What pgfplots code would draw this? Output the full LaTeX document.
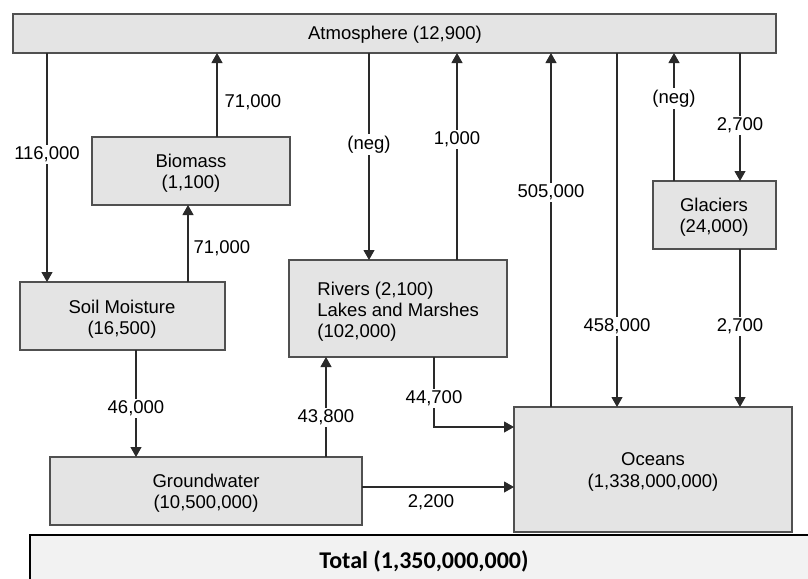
\documentclass[border=0pt]{standalone}
\usepackage{pgfplots}
\pgfplotsset{compat=1.18}
\usepackage{fontspec}
\setmainfont{Liberation Sans}
\newfontfamily\calibri{Carlito}
\usetikzlibrary{arrows.meta}
\definecolor{boxfill}{HTML}{E4E4E4}
\definecolor{boxline}{HTML}{505050}
\definecolor{totfill}{HTML}{F2F2F2}
\definecolor{arrcol}{HTML}{2A2A2A}
\begin{document}
\begin{tikzpicture}[
 lbl/.style={font=\fontsize{9.25}{10.5}\selectfont, fill=white, inner sep=1pt},
 txt/.style={font=\fontsize{9.25}{10.6}\selectfont, align=center, inner sep=0pt},
]
\begin{axis}[scale only axis, width=404pt, height=289pt,
 xmin=0, xmax=808, ymin=0, ymax=578, y dir=reverse, hide axis,
 box/.style={draw=boxline, fill=boxfill, line width=0.6pt, mark=none},
 arr/.style={draw=arrcol, line width=0.55pt, mark=none, -{Triangle[width=5.5pt,length=5pt]}},
]
% total box
\addplot[draw=black, fill=totfill, line width=1pt, mark=none] coordinates {(30,535) (815,535) (815,585) (30,585)} -- cycle;
% boxes
\addplot[box] coordinates {(13,14) (776,14) (776,53) (13,53)} -- cycle;        % Atmosphere
\addplot[box] coordinates {(92,137) (290,137) (290,205) (92,205)} -- cycle;    % Biomass
\addplot[box] coordinates {(20,282) (225,282) (225,350) (20,350)} -- cycle;    % Soil moisture
\addplot[box] coordinates {(289,260) (507,260) (507,357) (289,357)} -- cycle;  % Rivers
\addplot[box] coordinates {(653,181) (776,181) (776,249) (653,249)} -- cycle;  % Glaciers
\addplot[box] coordinates {(50,457) (362,457) (362,525) (50,525)} -- cycle;    % Groundwater
\addplot[box] coordinates {(514,407) (792,407) (792,532) (514,532)} -- cycle;  % Oceans
% arrows
\addplot[arr] coordinates {(47,53) (47,282)};      % 116,000
\addplot[arr] coordinates {(217,137) (217,53)};    % 71,000 biomass -> atm
\addplot[arr] coordinates {(188,282) (188,205)};   % 71,000 soil -> biomass
\addplot[arr] coordinates {(369,53) (369,260)};    % neg atm -> rivers
\addplot[arr] coordinates {(457,260) (457,53)};    % 1,000 rivers -> atm
\addplot[arr] coordinates {(551,407) (551,53)};    % 505,000 oceans -> atm
\addplot[arr] coordinates {(617,53) (617,407)};    % 458,000 atm -> oceans
\addplot[arr] coordinates {(674,181) (674,53)};    % neg glaciers -> atm
\addplot[arr] coordinates {(740,53) (740,181)};    % 2,700 atm -> glaciers
\addplot[arr] coordinates {(740,249) (740,407)};   % 2,700 glaciers -> oceans
\addplot[arr] coordinates {(136,350) (136,457)};   % 46,000
\addplot[arr] coordinates {(326,457) (326,357)};   % 43,800
\addplot[arr] coordinates {(434,357) (434,427) (514,427)}; % 44,700
\addplot[arr] coordinates {(362,487) (514,487)};   % 2,200
% box texts
\node[txt] at (axis cs:395,35) {Atmosphere (12,900)};
\node[txt] at (axis cs:191,173.5) {Biomass\\(1,100)};
\node[txt] at (axis cs:122,319) {Soil Moisture\\(16,500)};
\node[txt, align=left, anchor=west] at (axis cs:317,311.5) {Rivers (2,100)\\Lakes and Marshes\\(102,000)};
\node[txt] at (axis cs:714,217) {Glaciers\\(24,000)};
\node[txt] at (axis cs:206,493) {Groundwater\\(10,500,000)};
\node[txt] at (axis cs:653,472) {Oceans\\(1,338,000,000)};
\node[font=\calibri\bfseries\fontsize{12}{14}\selectfont, inner sep=0pt] at (axis cs:424,561) {Total (1,350,000,000)};
% flow labels
\node[lbl] at (axis cs:47,154.5) {116,000};
\node[lbl] at (axis cs:253,102.5) {71,000};
\node[lbl] at (axis cs:222,248.5) {71,000};
\node[lbl] at (axis cs:369,144.5) {(neg)};
\node[lbl] at (axis cs:457,139.5) {1,000};
\node[lbl] at (axis cs:551,192.5) {505,000};
\node[lbl] at (axis cs:617,326.5) {458,000};
\node[lbl] at (axis cs:674,98.5) {(neg)};
\node[lbl] at (axis cs:740,125.5) {2,700};
\node[lbl] at (axis cs:740,326.5) {2,700};
\node[lbl] at (axis cs:136,408.5) {46,000};
\node[lbl] at (axis cs:326,417.5) {43,800};
\node[lbl] at (axis cs:434,398.5) {44,700};
\node[lbl, fill=none] at (axis cs:431,502.5) {2,200};
\end{axis}
\pgfresetboundingbox
\path[use as bounding box] (current axis.south west) rectangle (current axis.north east);
\end{tikzpicture}
\end{document}
